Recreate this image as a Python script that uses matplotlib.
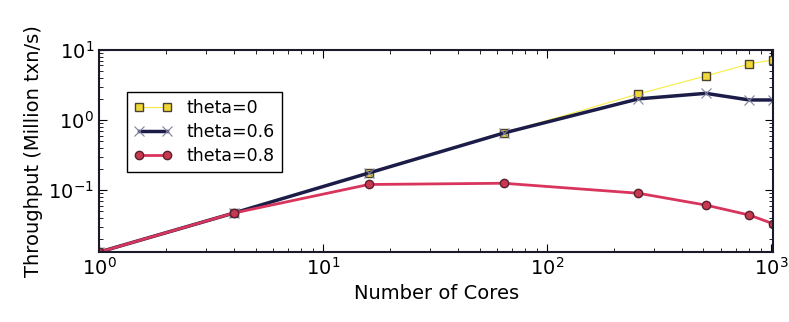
import matplotlib.pyplot as plt
from matplotlib.ticker import LogLocator, NullFormatter

cores = [1, 4, 16, 64, 256, 512, 800, 1024]
theta_0 = [0.013, 0.047, 0.175, 0.65, 2.35, 4.25, 6.3, 7.2]
theta_06 = [0.013, 0.047, 0.175, 0.65, 2.0, 2.4, 1.93, 1.93]
theta_08 = [0.013, 0.047, 0.12, 0.125, 0.09, 0.061, 0.044, 0.033]

fig = plt.figure(figsize=(7.89, 3.22), dpi=100)
ax = fig.add_axes([0.1255, 0.217, 0.8545, 0.628])

ax.plot(cores, theta_0, color='#f8ec40', lw=0.8, marker='s', ms=6,
        mfc='#f2d836', mec='#4a4030', mew=1, label='theta=0')
ax.plot(cores, theta_06, color='#1c1c48', lw=2.5, marker='x', ms=7,
        mec='#8080a0', mew=0.8, label='theta=0.6')
ax.plot(cores, theta_08, color='#d8345c', lw=2, marker='o', ms=6,
        mfc='#c8384e', mec='#5a2030', mew=1, label='theta=0.8')

ax.set_xscale('log')
ax.set_yscale('log')
ax.set_xlim(1, 1024)
ax.set_ylim(0.013, 10)
ax.set_yticks([0.1, 1, 10])
ax.yaxis.set_minor_locator(LogLocator(base=10, subs=range(2, 10)))
ax.yaxis.set_minor_formatter(NullFormatter())
ax.tick_params(which='both', direction='in', top=True, right=True, labelsize=14)
ax.tick_params(which='major', length=6)
ax.tick_params(which='minor', length=3)
for s in ax.spines.values():
    s.set_linewidth(1.5)
    s.set_color('#1a1a2a')

ax.set_xlabel('Number of Cores', fontsize=14)
ax.set_ylabel('Throughput (Million txn/s)', fontsize=14)

leg = ax.legend(loc='upper left', bbox_to_anchor=(0.042, 0.79), borderaxespad=0,
                numpoints=2, fontsize=12.5, fancybox=False, framealpha=1,
                borderpad=0.4, handlelength=2.2, labelspacing=0.35)
leg.get_frame().set_edgecolor('black')
leg.get_frame().set_linewidth(1)

fig.savefig('out.png', dpi=100)
